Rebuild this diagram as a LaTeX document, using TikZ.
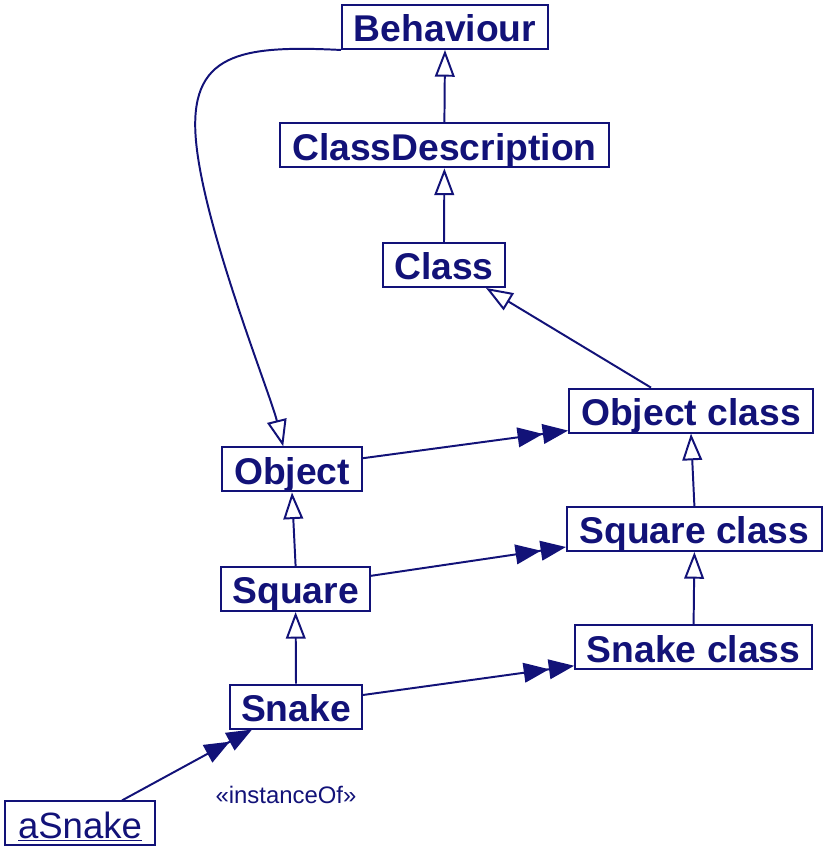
\documentclass[tikz,border=0pt]{standalone}
\usepackage{fontspec}
\setmainfont{Liberation Sans}
\usetikzlibrary{arrows.meta}
\definecolor{umlnavy}{RGB}{18,18,120}
\begin{document}
\begin{tikzpicture}[
    box/.style={draw=umlnavy, line width=1.4pt, text=umlnavy, minimum height=1.1cm,
      inner sep=0pt, text height=21pt, text depth=0pt,
      font=\bfseries\fontsize{26.5}{30}\selectfont},
    gen/.style={umlnavy, line width=1.4pt, -{Triangle[open, length=19pt, width=14pt]}},
    inst/.style={umlnavy, line width=1.4pt,
      -{Triangle[length=18pt, width=14pt]Triangle[length=18pt, width=14pt]}}]
  \useasboundingbox (0,0) rectangle (20.625,21.325);
  \node[box, minimum width=5.15cm] (beh) at (11.125,20.65) {Behaviour};
  \node[box, minimum width=8.225cm] (cdesc) at (11.11,17.69) {ClassDescription};
  \node[box, minimum width=3.05cm] (cls) at (11.1,14.7) {Class};
  \node[box, minimum width=6.1cm] (objcls) at (17.275,11.06) {Object class};
  \node[box, minimum width=3.5cm] (obj) at (7.3,9.59) {Object};
  \node[box, minimum width=6.375cm] (sqcls) at (17.36,8.1) {Square class};
  \node[box, minimum width=3.725cm] (sq) at (7.39,6.6) {Square};
  \node[box, minimum width=5.925cm] (snkcls) at (17.34,5.14) {Snake class};
  \node[box, minimum width=3.3cm] (snk) at (7.4,3.66) {Snake};
  \node[box, minimum width=3.75cm, font=\fontsize{26}{30}\selectfont] (asnk) at (2.0,0.74)
    {\underline{aSnake}};
  \node[umlnavy, font=\fontsize{17}{20}\selectfont] (lbl) at (7.15,1.45) {«instanceOf»};
  \draw[gen] (cdesc.north) -- (beh.south);
  \draw[gen] (cls.north) -- (cdesc.south);
  \draw[gen] ([xshift=-1cm]objcls.north) -- ([xshift=-0.5cm]cls.south east);
  \draw[gen] (sqcls.north) -- (objcls.south);
  \draw[gen] (snkcls.north) -- (sqcls.south);
  \draw[gen] (sq.north) -- (obj.south);
  \draw[gen] (snk.north) -- (sq.south);
  \draw[gen] (beh.south west) .. controls (6.0,20.2) and (4.7,20.0) .. (4.9,17.8)
    .. controls (5.1,15.6) and (6.75,11.5) .. ([xshift=-0.22cm]obj.north);
  \draw[inst] ([yshift=0.28cm]obj.east) -- ([yshift=-0.5cm]objcls.west);
  \draw[inst] ([yshift=0.33cm]sq.east) -- ([yshift=-0.45cm]sqcls.west);
  \draw[inst] ([yshift=0.29cm]snk.east) -- ([yshift=-0.46cm]snkcls.west);
  \draw[inst] ([xshift=1.05cm]asnk.north) -- ([xshift=-1.1cm]snk.south);
\end{tikzpicture}
\end{document}
